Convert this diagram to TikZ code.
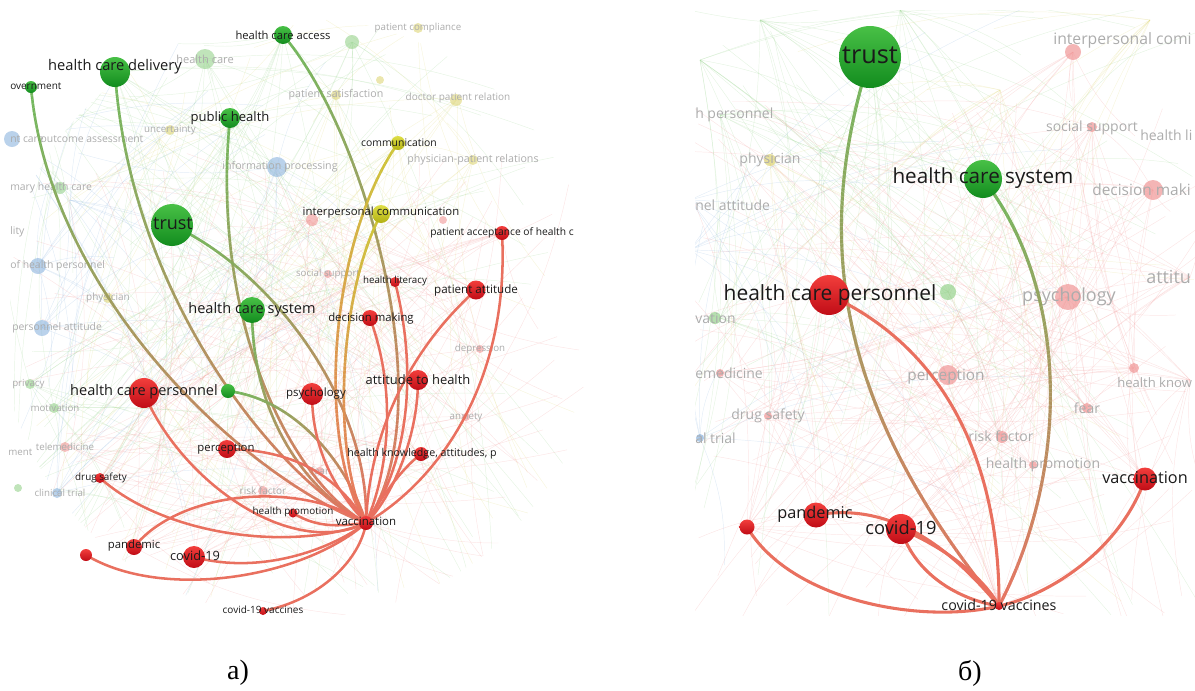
\documentclass[tikz,border=0pt]{standalone}
\usepackage{fontspec}
\newfontfamily\osf{Open Sans}
\newfontfamily\capf{Liberation Serif}
\usetikzlibrary{decorations.markings}
\pgfdeclarelayer{bg}
\pgfdeclarelayer{edges}
\pgfsetlayers{bg,edges,main}
\definecolor{ecr}{RGB}{233,112,95}
\definecolor{ecg}{RGB}{112,184,92}
\definecolor{ecy}{RGB}{205,198,55}
\definecolor{redT}{RGB}{242,62,60}
\definecolor{redB}{RGB}{192,12,22}
\definecolor{grnT}{RGB}{72,192,70}
\definecolor{grnB}{RGB}{18,140,30}
\definecolor{yelT}{RGB}{222,222,70}
\definecolor{yelB}{RGB}{178,176,18}
\definecolor{bgg}{RGB}{150,210,140}
\definecolor{bgy}{RGB}{222,214,120}
\definecolor{bgb}{RGB}{140,180,222}
\definecolor{bgr}{RGB}{240,150,150}
\definecolor{labc}{RGB}{26,26,26}
\definecolor{flabc}{RGB}{172,172,172}
\tikzset{
  ball/.style={circle, inner sep=0pt, draw=none, minimum size={#1*1.5pt}},
  rb/.style={ball=#1, top color=redT, bottom color=redB},
  gb/.style={ball=#1, top color=grnT, bottom color=grnB},
  yb/.style={ball=#1, top color=yelT, bottom color=yelB},
  lab/.style={font=\osf\fontsize{#1}{#1}\selectfont, text=labc, inner sep=0pt},
  flab/.style={font=\osf\fontsize{#1}{#1}\selectfont, text=flabc, inner sep=0pt},
  redge/.style={draw=ecr, line width=#1},
  gline/.style n args={3}{postaction={decorate, decoration={markings,
    mark=between positions 0 and 1 step 0.6pt with {%
      \pgfmathtruncatemacro\gf{100*(\pgfkeysvalueof{/pgf/decoration/mark info/distance from start}/\pgfdecoratedpathlength)}%
      \fill[#2!\gf!#1] (-0.4pt,-#3) rectangle (0.4pt,#3);}}}},
  bgl/.style={draw=#1, line width=0.35pt, opacity=0.24},
}
\begin{document}
\begin{tikzpicture}[x=0.75pt, y=-0.75pt]
\useasboundingbox (0,0) rectangle (1195,690);
% ================= background texture =================
\begin{pgfonlayer}{bg}
\begin{scope}
\clip (10,15) rectangle (590,622);
\clip (300,318) circle (300);
\pgfmathsetseed{7}
\foreach \hx/\hy in {205/59,115/72,172/225,252/310,230/118,283/35,352/42,31/87,228/391,54/408,30/384,18/488,130/180}{
  \foreach \k in {1,...,10}{
    \pgfmathsetmacro\rx{10+580*rnd}\pgfmathsetmacro\ry{15+600*rnd}
    \draw[bgl=bgg] (\hx,\hy) to[bend left=12] (\rx,\ry);}}
\foreach \hx/\hy in {398/143,381/214,418/28,458/98,473/160,336/95,380/240,108/298,160/139}{
  \foreach \k in {1,...,8}{
    \pgfmathsetmacro\rx{10+580*rnd}\pgfmathsetmacro\ry{15+600*rnd}
    \draw[bgl=bgy] (\hx,\hy) to[bend right=12] (\rx,\ry);}}
\foreach \hx/\hy in {38/266,42/328,277/167,10/139,57/493,70/200}{
  \foreach \k in {1,...,8}{
    \pgfmathsetmacro\rx{10+400*rnd}\pgfmathsetmacro\ry{15+600*rnd}
    \draw[bgl=bgb] (\hx,\hy) to[bend left=12] (\rx,\ry);}}
\foreach \hx/\hy in {144/393,312/394,418/380,227/449,366/523,194/557,476/290,370/318,328/274,480/349,466/417,421/454,320/471,263/491,100/478,134/547,502/233,395/282,70/447,310/220}{
  \foreach \k in {1,...,9}{
    \pgfmathsetmacro\rx{10+580*rnd}\pgfmathsetmacro\ry{150+470*rnd}
    \draw[bgl=bgr] (\hx,\hy) to[bend right=12] (\rx,\ry);}}
\end{scope}
% faint nodes left
\foreach \x/\y/\r/\c in {205/59/10/bgg,352/42/7/bgg,418/28/5/bgy,336/95/5/bgy,456/100/6/bgy,380/80/4/bgy,473/160/5/bgy,170/130/5/bgy,277/167/10/bgb,12/139/8/bgb,60/188/6/bgg,38/266/8/bgb,108/298/5/bgy,42/328/8/bgb,328/274/4/bgr,480/349/4/bgr,30/384/5/bgg,54/408/5/bgg,466/417/4/bgr,65/447/5/bgr,320/471/4/bgr,263/491/5/bgr,18/488/4/bgg,57/493/5/bgb,312/220/6/bgr,443/220/4/bgr}{
  \fill[\c, opacity=0.6] (\x,\y) circle (\r);}
% faint labels left
\node[flab=7.3] (f1) at (418,28) {patient compliance};
\node[flab=8.3] (f2) at (205,59) {health care};
\node[flab=8] (f3) at (336,95) {patient satisfaction};
\node[flab=7.5] (f4) at (458,98) {doctor patient relation};
\node[flab=7.3] (f5) at (170,130) {uncertainty};
\node[flab=7.8] (f6) at (92,139) {outcome assessment};
\node[flab=7.8, anchor=west] (f7) at (10,139) {nt care};
\node[flab=8] (f8) at (280,167) {information processing};
\node[flab=8] (f9) at (473,160) {physician-patient relations};
\node[flab=7.8, anchor=west] (f10) at (10,188) {mary health care};
\node[flab=7.8, anchor=west] (f11) at (10,232) {lity};
\node[flab=7.8, anchor=west] (f12) at (10,266) {of health personnel};
\node[flab=7.5] (f13) at (108,298) {physician};
\node[flab=7.8, anchor=west] (f14) at (12,328) {personnel attitude};
\node[flab=7.3] (f15) at (328,274) {social support};
\node[flab=7.3] (f16) at (480,349) {depression};
\node[flab=7.3, anchor=west] (f17) at (12,384) {privacy};
\node[flab=7.3] (f18) at (55,408) {motivation};
\node[flab=7.3] (f19) at (466,417) {anxiety};
\node[flab=7.3] (f20) at (65,447) {telemedicine};
\node[flab=7.3, anchor=west] (f21) at (8,452) {ment};
\node[flab=7.3] (f22) at (320,471) {fear};
\node[flab=7.3] (f23) at (60,493) {clinical trial};
\node[flab=7.5] (f24) at (263,491) {risk factor};
% ---------- right panel background ----------
\begin{scope}
\clip (695,10) rectangle (1195,615);
\pgfmathsetseed{11}
\foreach \hx/\hy in {870/57,983/179,948/292,720/115,760/20,700/60,820/150,900/10,720/318}{
  \foreach \k in {1,...,11}{
    \pgfmathsetmacro\rx{680+530*rnd}\pgfmathsetmacro\ry{630*rnd}
    \draw[bgl=bgg] (\hx,\hy) to[bend left=12] (\rx,\ry);}}
\foreach \hx/\hy in {770/160,1150/20,1000/90}{
  \foreach \k in {1,...,10}{
    \pgfmathsetmacro\rx{680+530*rnd}\pgfmathsetmacro\ry{630*rnd}
    \draw[bgl=bgy] (\hx,\hy) to[bend right=12] (\rx,\ry);}}
\foreach \hx/\hy in {700/438,690/250,690/200}{
  \foreach \k in {1,...,8}{
    \pgfmathsetmacro\rx{680+400*rnd}\pgfmathsetmacro\ry{630*rnd}
    \draw[bgl=bgb] (\hx,\hy) to[bend left=12] (\rx,\ry);}}
\foreach \hx/\hy in {829/295,1068/297,948/375,1153/190,1092/127,1134/368,1087/408,1002/437,1033/465,1145/479,816/515,901/529,747/527,768/416,720/373,1073/52,1190/277,999/606,1190/380}{
  \foreach \k in {1,...,11}{
    \pgfmathsetmacro\rx{680+530*rnd}\pgfmathsetmacro\ry{100+530*rnd}
    \draw[bgl=bgr] (\hx,\hy) to[bend right=12] (\rx,\ry);}}
\foreach \x/\y/\r/\c in {1073/52/8/bgr,1092/127/5/bgr,1153/190/10/bgr,948/292/8/bgg,1068/297/13/bgr,948/375/10/bgr,1134/368/5/bgr,1087/408/5/bgr,1002/437/6/bgr,1033/465/4/bgr,768/416/4/bgr,770/160/6/bgy,720/373/4/bgr,700/438/4/bgb,715/318/6/bgg}{
  \fill[\c, opacity=0.7] (\x,\y) circle (\r);}
\node[flab=10.5, anchor=west] (g1) at (695,115) {h personnel};
\node[flab=10.5] (g2) at (770,160) {physician};
\node[flab=10.5, anchor=west] (g3) at (695,205) {nel attitude};
\node[flab=11.8, anchor=west] (g4) at (1053,40) {interpersonal comi};
\node[flab=10.5] (g5) at (1092,128) {social support};
\node[flab=10.5, anchor=west] (g6) at (1140,135) {health li};
\node[flab=11.6, anchor=west] (g7) at (1092,190) {decision maki};
\node[flab=13.5] (g8) at (1069,297) {psychology};
\node[flab=13.5, anchor=west] (g9) at (1146,277) {attitu};
\node[flab=10.5, anchor=west] (g10) at (695,318) {vation};
\node[flab=10.5, anchor=west] (g11) at (695,373) {emedicine};
\node[flab=11.5] (g12) at (946,377) {perception};
\node[flab=9.8, anchor=west] (g13) at (1117,383) {health know};
\node[flab=10.5] (g14) at (1087,408) {fear};
\node[flab=10.5] (g15) at (768,416) {drug safety};
\node[flab=10.5, anchor=west] (g16) at (695,438) {al trial};
\node[flab=10.5] (g17) at (1001,436) {risk factor};
\node[flab=10.5] (g18) at (1043,465) {health promotion};
\end{scope}
\end{pgfonlayer}
% ================= nodes left =================
\node[gb=9] (hca) at (283,35) {};
\node[gb=15] (hcd) at (115,72) {};
\node[gb=6] (gov) at (31,87) {};
\node[gb=10] (ph) at (230,118) {};
\node[yb=7] (comm) at (398,143) {};
\node[gb=21] (trust) at (172,225) {};
\node[yb=9] (ipc) at (381,214) {};
\node[rb=7] (pac) at (502,233) {};
\node[rb=5] (hl) at (395,282) {};
\node[rb=9.5] (pat) at (476,290) {};
\node[gb=13] (hcs) at (252,310) {};
\node[rb=8] (dm) at (370,318) {};
\node[rb=15] (hcp) at (144,393) {};
\node[gb=7] (sg) at (228,391) {};
\node[rb=11] (psy) at (312,394) {};
\node[rb=10] (ath) at (418,380) {};
\node[rb=9] (perc) at (227,449) {};
\node[rb=7] (hk) at (421,454) {};
\node[rb=5] (ds) at (100,478) {};
\node[rb=4.5] (hp) at (293,513) {};
\node[rb=7] (vac) at (366,523) {};
\node[rb=8] (pan) at (134,547) {};
\node[rb=11] (cov) at (194,557) {};
\node[rb=6] (ru) at (86,555) {};
\node[rb=4] (cvv) at (263,611) {};
% ================= nodes right =================
\node[gb=31] (Rtrust) at (870,57) {};
\node[gb=19] (Rhcs) at (983,179) {};
\node[rb=20] (Rhcp) at (829,295) {};
\node[rb=11.5] (Rvac) at (1145,479) {};
\node[rb=12.5] (Rpan) at (816,515) {};
\node[rb=15] (Rcov) at (901,529) {};
\node[rb=7.5] (Rru) at (747,527) {};
\node[rb=4] (Rcvv) at (999,606) {};
% ================= edges =================
\begin{pgfonlayer}{edges}
% left, gradients
\path[gline={ecg}{ecr}{0.95pt}] (gov.center) .. controls (50,300) and (250,480) .. (vac.center);
\path[gline={ecg}{ecr}{0.95pt}] (hcd.center) .. controls (130,300) and (280,480) .. (vac.center);
\path[gline={ecg}{ecr}{0.95pt}] (ph.center) .. controls (210,320) and (290,480) .. (vac.center);
\path[gline={ecg}{ecr}{0.95pt}] (hca.center) .. controls (365,130) and (445,410) .. (vac.center);
\path[gline={ecg}{ecr}{0.95pt}] (trust.center) .. controls (270,270) and (370,400) .. (vac.center);
\path[gline={ecg}{ecr}{0.95pt}] (hcs.center) .. controls (252,430) and (320,500) .. (vac.center);
\path[gline={ecg}{ecr}{0.95pt}] (sg.center) .. controls (300,400) and (350,470) .. (vac.center);
\path[gline={ecy}{ecr}{0.95pt}] (comm.center) .. controls (330,240) and (315,440) .. (vac.center);
\path[gline={ecy}{ecr}{0.95pt}] (ipc.center) .. controls (340,290) and (330,450) .. (vac.center);
% left, red
\draw[redge=1.9pt] (pac.center) .. controls (510,380) and (440,480) .. (vac.center);
\draw[redge=1.9pt] (pat.center) .. controls (420,340) and (370,420) .. (vac.center);
\draw[redge=1.9pt] (hl.center) .. controls (420,380) and (405,470) .. (vac.center);
\draw[redge=1.9pt] (dm.center) .. controls (400,400) and (385,480) .. (vac.center);
\draw[redge=1.9pt] (ath.center) .. controls (418,440) and (390,500) .. (vac.center);
\draw[redge=1.9pt] (hk.center) .. controls (400,470) and (380,500) .. (vac.center);
\draw[redge=1.9pt] (psy.center) .. controls (312,460) and (345,500) .. (vac.center);
\draw[redge=1.9pt] (hcp.center) .. controls (180,480) and (290,560) .. (vac.center);
\draw[redge=1.9pt] (perc.center) .. controls (300,450) and (340,480) .. (vac.center);
\draw[redge=1.9pt] (ds.center) .. controls (170,540) and (300,550) .. (vac.center);
\draw[redge=1.9pt] (pan.center) .. controls (180,490) and (300,480) .. (vac.center);
\draw[redge=1.9pt] (cov.center) .. controls (260,575) and (330,550) .. (vac.center);
\draw[redge=1.9pt] (ru.center) .. controls (160,600) and (300,580) .. (vac.center);
\draw[redge=1.9pt] (cvv.center) .. controls (320,600) and (360,560) .. (vac.center);
\draw[redge=1.9pt] (hp.center) .. controls (320,530) and (345,525) .. (vac.center);
% right
\path[gline={ecg}{ecr}{1.15pt}] (Rtrust.center) .. controls (815,230) and (830,400) .. (Rcvv.center);
\path[gline={ecg}{ecr}{1.15pt}] (Rhcs.center) .. controls (1070,290) and (1070,470) .. (Rcvv.center);
\draw[redge=2.3pt] (Rhcp.center) .. controls (950,350) and (1000,470) .. (Rcvv.center);
\draw[redge=2.3pt] (Rpan.center) .. controls (900,500) and (960,560) .. (Rcvv.center);
\draw[redge=2.3pt] (Rcov.center) .. controls (915,575) and (960,600) .. (Rcvv.center);
\draw[redge=2.3pt] (Rcov.center) .. controls (950,550) and (985,580) .. (Rcvv.center);
\draw[redge=2.3pt] (Rru.center) .. controls (790,600) and (920,625) .. (Rcvv.center);
\draw[redge=2.3pt] (Rvac.center) .. controls (1120,550) and (1050,595) .. (Rcvv.center);
\end{pgfonlayer}
% ================= labels left =================
\node[lab=8.4] (hca-l) at (283,35) {health care access};
\node[lab=11] (hcd-l) at (115,67) {health care delivery};
\node[lab=7.5, anchor=west] (gov-l) at (10,86) {overnment};
\node[lab=9.8] (ph-l) at (230,118) {public health};
\node[lab=7.8] (comm-l) at (399,143) {communication};
\node[lab=13.5] (trust-l) at (173,224) {trust};
\node[lab=8.5] (ipc-l) at (381,213) {interpersonal communication};
\node[lab=7.7] (pac-l) at (502,233) {patient acceptance of health c};
\node[lab=7.3] (hl-l) at (395,281) {health literacy};
\node[lab=8.7] (pat-l) at (476,290) {patient attitude};
\node[lab=10.9] (hcs-l) at (252,310) {health care system};
\node[lab=8.5] (dm-l) at (371,319) {decision making};
\node[lab=10.9] (hcp-l) at (144,392) {health care personnel};
\node[lab=8.6] (psy-l) at (316,394) {psychology};
\node[lab=9.7] (ath-l) at (418,380) {attitude to health};
\node[lab=8.5] (perc-l) at (226,449) {perception};
\node[lab=8] (hk-l) at (422,454) {health knowledge, attitudes, p};
\node[lab=7.4] (ds-l) at (101,478) {drug safety};
\node[lab=7.4] (hp-l) at (293,512) {health promotion};
\node[lab=8.6] (vac-l) at (366,521) {vaccination};
\node[lab=8.5] (pan-l) at (134,546) {pandemic};
\node[lab=9.6] (cov-l) at (195,556) {covid-19};
\node[lab=7.5] (cvv-l) at (263,610) {covid-19 vaccines};
% ================= labels right =================
\node[lab=19] (Rtrust-l) at (870,55) {trust};
\node[lab=15.5] (Rhcs-l) at (983,178) {health care system};
\node[lab=15.7] (Rhcp-l) at (830,295) {health care personnel};
\node[lab=12.2] (Rvac-l) at (1145,478) {vaccination};
\node[lab=12.2] (Rpan-l) at (815,514) {pandemic};
\node[lab=13.7] (Rcov-l) at (901,528) {covid-19};
\node[lab=10.7] (Rcvv-l) at (999,605) {covid-19 vaccines};
% ================= captions =================
\node[font=\capf\fontsize{21}{21}\selectfont, inner sep=0pt] (capA) at (238,673) {а)};
\node[font=\capf\fontsize{21}{21}\selectfont, inner sep=0pt] (capB) at (970,673) {б)};
\end{tikzpicture}
\end{document}
